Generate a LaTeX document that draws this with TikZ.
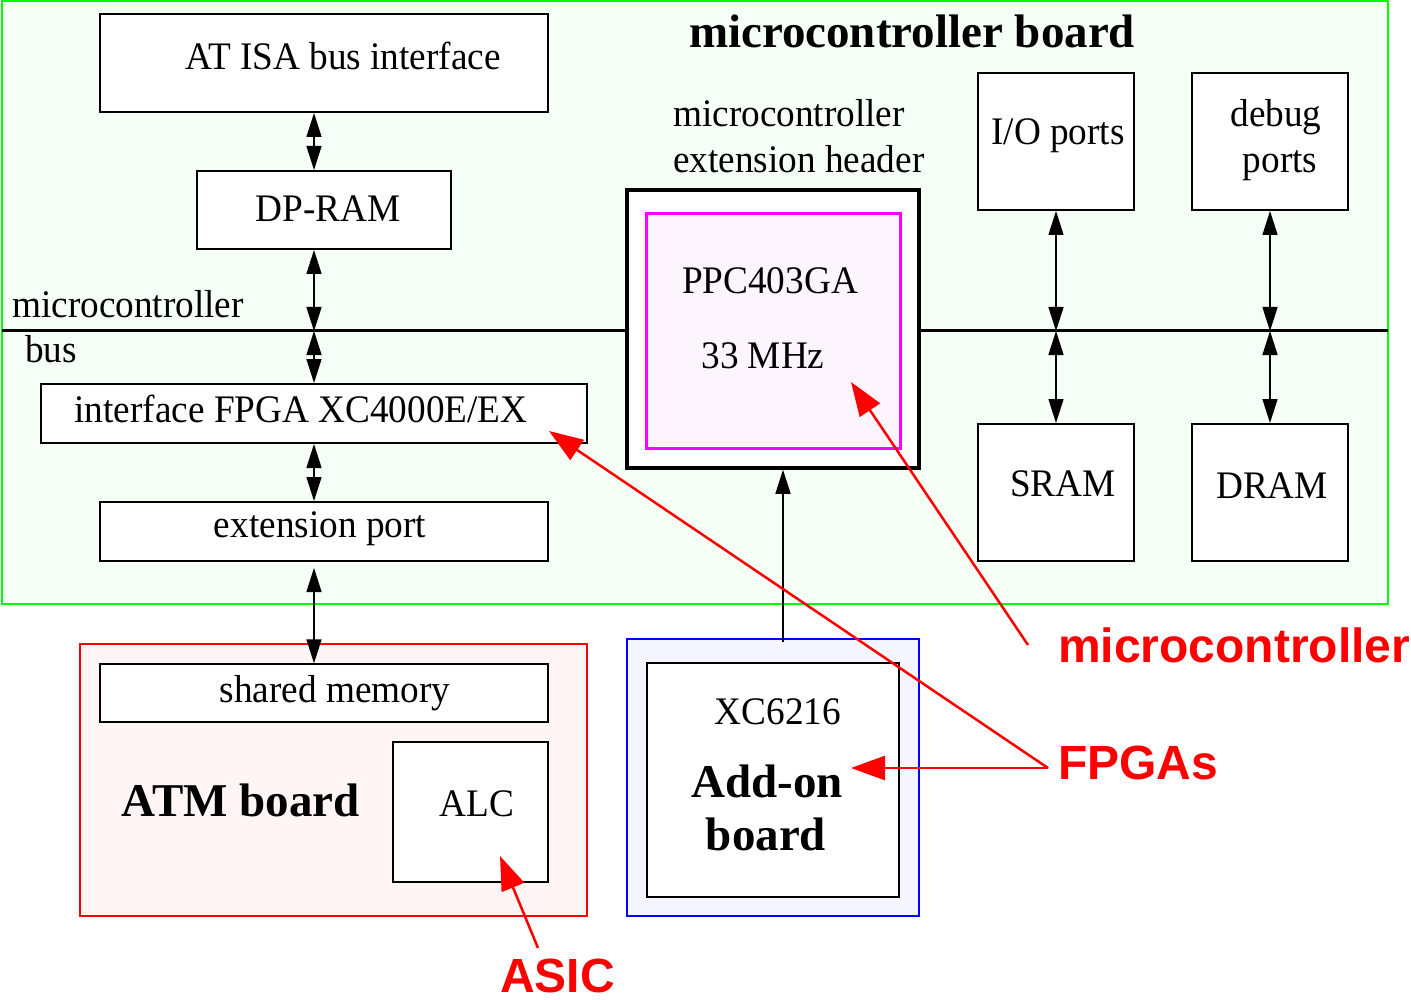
\documentclass[tikz,border=0pt]{standalone}
\usepackage{fontspec}
\setmainfont{Liberation Serif}[FakeStretch=0.955]
\newfontfamily\titlefont{Liberation Serif}
\newfontfamily\redfont{Liberation Sans}
\usetikzlibrary{arrows.meta,fit,calc}
\definecolor{boardgreen}{HTML}{F5FFF5}
\definecolor{atmpink}{HTML}{FFF5F5}
\definecolor{addonblue}{HTML}{F5F5FF}
\definecolor{ppcpink}{HTML}{FDF5FD}
\definecolor{ppcmag}{HTML}{FF00FF}
\tikzset{
  box/.style={draw=black, line width=2pt, fill=white, inner sep=0pt},
  thinbox/.style={draw=black, line width=1.3pt, fill=white, inner sep=0pt},
  txt/.style={inner sep=0pt, anchor=base, font=\fontsize{39}{45}\selectfont},
  ltxt/.style={txt, anchor=base west},
  bold/.style={inner sep=0pt, anchor=base, font=\titlefont\bfseries\fontsize{47}{53}\selectfont},
  redlbl/.style={inner sep=0pt, anchor=base west, text=red, font=\redfont\bfseries\fontsize{48}{53}\selectfont},
  dbl/.style={line width=1.5pt, {Triangle[length=24pt,width=15pt]}-{Triangle[length=24pt,width=15pt]}},
  sgl/.style={line width=1.5pt, -{Triangle[length=24pt,width=15pt]}},
  redarr/.style={draw=red, line width=2.5pt, -{Triangle[length=34pt,width=24pt]}},
}
\begin{document}
\begin{tikzpicture}[x=1pt,y=-1pt]
\useasboundingbox (0,0) rectangle (1411,1000);
% boards
\node[draw={rgb,255:red,0;green,255;blue,0}, line width=1.3pt, fill=boardgreen, inner sep=0pt, fit={(2,1) (1388,604)}] (mcboard) {};
\node[draw=red, line width=1.3pt, fill=atmpink, inner sep=0pt, fit={(80,644) (587,916)}] (atm) {};
\node[draw=blue, line width=1.3pt, fill=addonblue, inner sep=0pt, fit={(627,639) (919,916)}] (addon) {};
% bus
\coordinate (busL) at (2,331);
\coordinate (busR) at (1388,331);
% microcontroller board boxes
\node[box, fit={(100,14) (548,112)}] (isa) {};
\node[box, fit={(197,171) (451,249)}] (dpram) {};
\node[box, fit={(41,384) (587,443)}] (ifpga) {};
\node[box, fit={(100,502) (548,561)}] (extport) {};
\node[draw=black, line width=3.5pt, fill=white, inner sep=0pt, fit={(627,190) (919,468)}] (ppcout) {};
\node[draw=ppcmag, line width=3pt, fill=ppcpink, inner sep=0pt, fit={(646,214) (900,448)}] (ppcin) {};
\node[box, fit={(978,73) (1134,210)}] (io) {};
\node[box, fit={(1192,73) (1348,210)}] (debug) {};
\node[box, fit={(978,424) (1134,561)}] (sram) {};
\node[box, fit={(1192,424) (1348,561)}] (dram) {};
% ATM board boxes
\node[thinbox, fit={(100,664) (548,722)}] (shmem) {};
\node[thinbox, fit={(393,742) (548,882)}] (alc) {};
% add-on inner
\node[thinbox, fit={(647,663) (899,897)}] (addin) {};
% bus line
\draw[line width=3pt] (busL) -- (ppcout.west |- busL);
\draw[line width=3pt] (ppcout.east |- busR) -- (busR);
% bus taps
\coordinate (tapA) at (314,331);
\coordinate (tapB) at (1056,331);
\coordinate (tapC) at (1270,331);
% black arrows
\draw[dbl] (isa.south -| tapA) -- (dpram.north -| tapA);
\draw[dbl] (dpram.south -| tapA) -- (tapA);
\draw[dbl] (tapA) -- (ifpga.north -| tapA);
\draw[dbl] (ifpga.south -| tapA) -- (extport.north -| tapA);
\draw[dbl, shorten <=6pt] (extport.south -| tapA) -- (shmem.north -| tapA);
\draw[dbl] (io.south -| tapB) -- (tapB);
\draw[dbl] (tapB) -- (sram.north -| tapB);
\draw[dbl] (debug.south -| tapC) -- (tapC);
\draw[dbl] (tapC) -- (dram.north -| tapC);
\coordinate (upx) at (783,0);
\draw[sgl] ($(addon.north -| upx)+(0,4)$) -- (ppcout.south -| upx);
% texts
\node[bold] (title) at (912,48) {microcontroller board};
\node[txt] (tisa) at (343,70) {AT ISA bus interface};
\node[txt] (tdp) at (328,222) {DP-RAM};
\node[ltxt] (tbus1) at (12,318) {microcontroller};
\node[ltxt] (tbus2) at (25,362) {bus};
\node[txt] (tif) at (301,422) {interface FPGA XC4000E/EX};
\node[txt] (tex) at (320,537) {extension port};
\node[ltxt] (thd1) at (673,127) {microcontroller};
\node[ltxt] (thd2) at (673,173) {extension header};
\node[txt] (tppc) at (770,294) {PPC403GA};
\node[txt] (tmhz) at (763,368) {33 MHz};
\node[txt] (tio) at (1058,145) {I/O ports};
\node[txt] (tdb1) at (1276,127) {debug};
\node[txt] (tdb2) at (1280,173) {ports};
\node[txt] (tsram) at (1063,496) {SRAM};
\node[txt] (tdram) at (1272,498) {DRAM};
\node[txt] (tsh) at (335,702) {shared memory};
\node[txt] (talc) at (477,816) {ALC};
\node[bold] (tatm) at (241,816) {ATM board};
\node[txt] (txc) at (778,724) {XC6216};
\node[bold] (tadd1) at (767,797) {Add-on};
\node[bold] (tadd2) at (766,850) {board};
% red labels
\node[redlbl] (rmc) at (1058,662) {microcontroller};
\node[redlbl] (rfp) at (1058,779) {FPGAs};
\node[redlbl] (ras) at (500,992) {ASIC};
% red arrows
\coordinate (mcstart) at (1028,645);
\coordinate (mctip) at (851,382);
\coordinate (fpV) at (1048,768);
\coordinate (iftip) at (549,431);
\coordinate (addtip) at (851,768);
\coordinate (asstart) at (538,948);
\coordinate (astip) at (500,856);
\draw[redarr] (mcstart) -- (mctip);
\draw[redarr] (fpV) -- (iftip);
\draw[redarr] (fpV) -- (addtip);
\draw[redarr] (asstart) -- (astip);
\end{tikzpicture}
\end{document}
